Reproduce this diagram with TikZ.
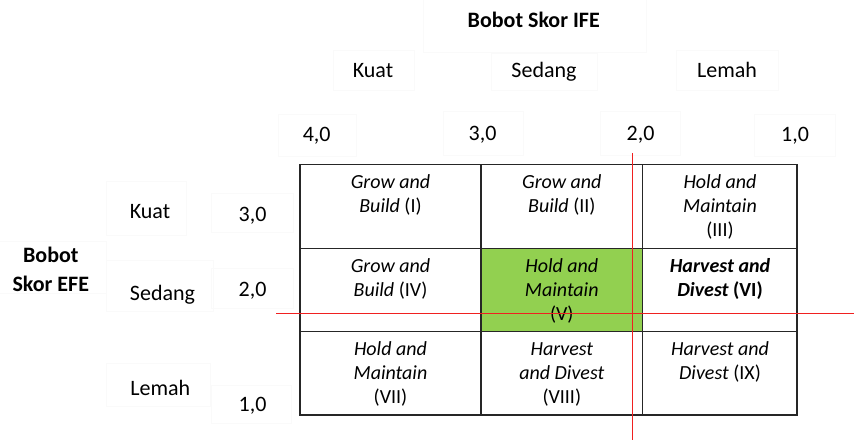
\documentclass[tikz,border=0pt]{standalone}
\usepackage{fontspec}
\setmainfont{Carlito}
\definecolor{cellgreen}{HTML}{92D050}
\definecolor{axisred}{HTML}{F02020}
\tikzset{
  lbl/.style={font=\fontsize{22}{26}\selectfont, inner sep=0pt, anchor=base},
  boldlbl/.style={font=\fontsize{22}{29}\selectfont\bfseries, inner sep=0pt, anchor=base, align=center},
  celltxt/.style={font=\fontsize{20}{24.2}\selectfont\itshape, align=center, inner sep=0pt, anchor=base},
  faintbox/.style={draw=black!2, line width=0.5pt},
  gridline/.style={draw=black!85, line width=1.5pt},
  redline/.style={draw=axisred, line width=1.5pt}
}
\begin{document}
\begin{tikzpicture}[x=1pt,y=-1pt]
\useasboundingbox (0,0) rectangle (854,440);
% faint text-box outlines
\draw[faintbox] (423,-2) rectangle (646,52);
\draw[faintbox] (333,50) rectangle (414,90);
\draw[faintbox] (491.7,53) rectangle (597,90.7);
\draw[faintbox] (676,50) rectangle (778,90.7);
\draw[faintbox] (278,114) rectangle (356.7,156);
\draw[faintbox] (443,111.7) rectangle (523,155);
\draw[faintbox] (600,111.7) rectangle (680.7,155);
\draw[faintbox] (754,114) rectangle (835,156);
\draw[faintbox] (-2,241.7) rectangle (106,293.3);
\draw[faintbox] (106,181.7) rectangle (186.7,235);
\draw[faintbox] (106,260) rectangle (213,311.7);
\draw[faintbox] (106,363) rectangle (210,406.7);
\draw[faintbox] (211.7,193) rectangle (293,232.7);
\draw[faintbox] (211.7,268) rectangle (293,308);
\draw[faintbox] (211.7,385) rectangle (291.7,423);
% labels
\node[boldlbl] (ife) at (533.7,27.3) {Bobot Skor IFE};
\node[lbl] (kuatT) at (373,77.3) {Kuat};
\node[lbl] (sedangT) at (544,77.3) {Sedang};
\node[lbl] (lemahT) at (727,77.3) {Lemah};
\node[lbl] (n4) at (316.7,141.7) {4,0};
\node[lbl] (n3) at (482.5,140) {3,0};
\node[lbl] (n2) at (640.5,140) {2,0};
\node[lbl] (n1) at (795,141.7) {1,0};
\node[boldlbl] (efe) at (50.8,291) {Bobot\\Skor EFE};
\node[lbl] (kuatL) at (150,218.3) {Kuat};
\node[lbl] (sedangL) at (162.5,300) {Sedang};
\node[lbl] (lemahL) at (160.3,395) {Lemah};
\node[lbl] (m3) at (252.5,221.7) {3,0};
\node[lbl] (m2) at (252.5,296.7) {2,0};
\node[lbl] (m1) at (252.5,411.7) {1,0};
% grid
\fill[cellgreen] (481,248.3) rectangle (642.7,331.7);
\draw[gridline] (300,164.3) rectangle (797,415);
\draw[gridline] (481,164.3) -- (481,415);
\draw[gridline] (642.7,164.3) -- (642.7,415);
\draw[gridline] (300,248.3) -- (797,248.3);
\draw[gridline] (300,331.7) -- (797,331.7);
% cell texts (anchor = baseline of last line)
\node[celltxt] (c1) at (390.5,212.4) {Grow and\\Build \upshape(I)};
\node[celltxt] (c2) at (561.8,212.4) {Grow and\\Build \upshape(II)};
\node[celltxt] (c3) at (720,236.6) {Hold and\\Maintain\\\upshape(III)};
\node[celltxt] (c4) at (390.5,296.5) {Grow and\\Build \upshape(IV)};
\node[celltxt] (c5) at (561.8,320.7) {Hold and\\Maintain\\\upshape(V)};
\node[celltxt,font=\fontsize{20}{24.2}\selectfont\bfseries\itshape] (c6) at (720,296.5) {Harvest and\\Divest \upshape(VI)};
\node[celltxt] (c7) at (390.5,403.4) {Hold and\\Maintain\\\upshape(VII)};
\node[celltxt] (c8) at (561.8,403.4) {Harvest\\and Divest\\\upshape(VIII)};
\node[celltxt] (c9) at (720,379.2) {Harvest and\\Divest \upshape(IX)};
% red axis lines
\coordinate (vtop) at (632.5,153);
\coordinate (vbot) at (632.5,440);
\coordinate (hleft) at (276,313.5);
\coordinate (hright) at (854,313.5);
\draw[redline] (vtop) -- (vbot);
\draw[redline] (hleft) -- (hright);
\end{tikzpicture}
\end{document}
